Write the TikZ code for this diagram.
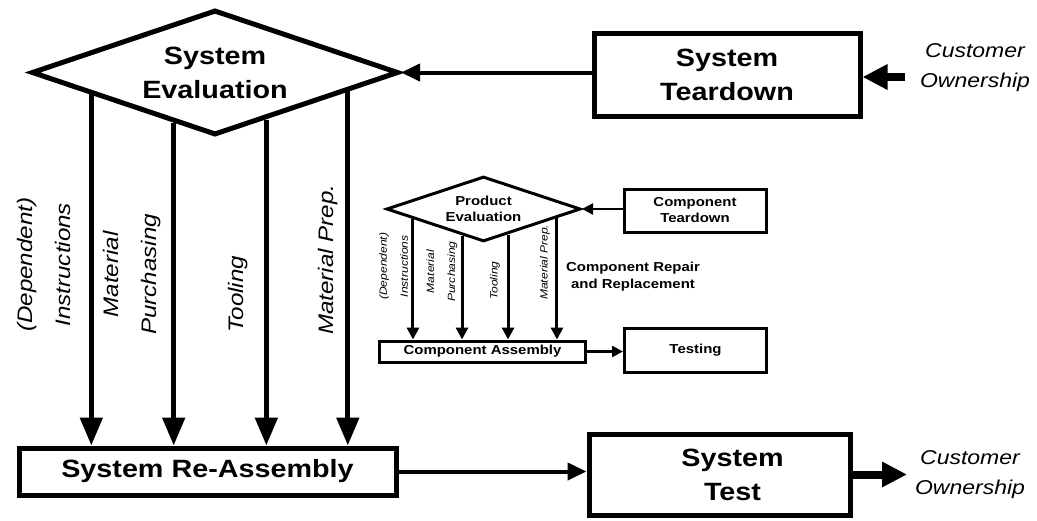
\documentclass[tikz,border=0pt]{standalone}
\usepackage{fontspec}
\setmainfont{Liberation Sans}
\newfontfamily\diagfont[FakeStretch=1.15]{Liberation Sans}
\usetikzlibrary{arrows.meta,shapes.geometric,calc}

\tikzset{
  bigbox/.style={draw, line width=5pt, fill=white, align=center, inner sep=0pt,
    font=\diagfont\bfseries\fontsize{25}{34}\selectfont},
  smallbox/.style={draw, line width=3pt, fill=white, align=center, inner sep=0pt,
    font=\diagfont\bfseries\fontsize{13}{16}\selectfont},
  bigdiam/.style={bigbox, diamond, aspect=2.9},
  smalldiam/.style={smallbox, diamond, aspect=2.9},
  biglabel/.style={rotate=90, anchor=west, align=center, inner sep=0pt,
    font=\diagfont\itshape\fontsize{21}{38}\selectfont},
  smalllabel/.style={rotate=90, anchor=west, align=center, inner sep=0pt,
    font=\diagfont\itshape\fontsize{10.5}{21}\selectfont},
  custlabel/.style={align=center, inner sep=0pt,
    font=\diagfont\itshape\fontsize{20}{30}\selectfont},
  notelabel/.style={align=center, inner sep=0pt,
    font=\diagfont\bfseries\fontsize{13}{17}\selectfont},
  bigdown/.style={line width=5pt, -{Triangle[length=28pt,width=22pt]}},
  bigflow/.style={line width=4pt, -{Triangle[length=19pt,width=17pt]}},
  heavyflow/.style={line width=8pt, -{Triangle[length=25pt,width=24pt]}},
  smalldown/.style={line width=3pt, -{Triangle[length=12pt,width=12pt]}},
  smallflow/.style={line width=2.5pt, -{Triangle[length=11pt,width=11pt]}},
}

\begin{document}
\begin{tikzpicture}[x=1pt, y=-1pt]
\useasboundingbox (0,0) rectangle (1037,520);

% ---- system level ----
\node[bigdiam, minimum width=367pt, minimum height=125pt] (se) at (215,72.5) {System\\Evaluation};
\node[bigbox, minimum width=266pt, minimum height=83pt] (st) at (727,74.5) {System\\Teardown};
\node[bigbox, minimum width=377pt, minimum height=47pt] (ra) at (207.5,471.5) {System Re-Assembly};
\node[bigbox, minimum width=261pt, minimum height=81pt] (tst) at (719.5,474.5)
  {\hspace*{26pt}System\\\hspace*{26pt}Test};

\node[custlabel] (cin) at (975,68) {Customer\\Ownership};
\node[custlabel] (cout) at (970,475) {Customer\\Ownership};
\coordinate (cinstart) at (905,77);
\coordinate (couttip) at (907,475);

% flows out of the system evaluation
\coordinate (b1) at ($(se.west)!0.335!(se.south)$);
\coordinate (b2) at ($(se.west)!0.778!(se.south)$);
\coordinate (b3) at ($(se.south)!0.276!(se.east)$);
\coordinate (b4) at ($(se.south)!0.714!(se.east)$);
\foreach \p in {b1,b2,b3,b4}
  \draw[bigdown] (\p) -- (\p |- ra.north);

\node[biglabel] (lb1) at (44,332) {(Dependent)\\Instructions};
\node[biglabel] (lb2) at (132.5,335) {Material\\Purchasing};
\node[biglabel] (lb3) at (238,333) {Tooling};
\node[biglabel] (lb4) at (328,335) {Material Prep.};

\draw[bigflow] (st.west |- se.east) -- (se.east);
\draw[heavyflow] (cinstart) -- (cinstart -| st.east);
\draw[bigflow] (ra.east) -- (ra.east -| tst.west);
\draw[heavyflow] (tst.east) -- (tst.east -| couttip);

% ---- component level ----
\node[smalldiam, minimum width=194pt, minimum height=65pt] (pe) at (483.5,209) {Product\\Evaluation};
\node[smallbox, minimum width=142pt, minimum height=43pt] (ct) at (695,210.5) {Component\\Teardown};
\node[smallbox, minimum width=206pt, minimum height=21pt] (ca) at (482.5,351.5) {Component Assembly};
\node[smallbox, minimum width=142pt, minimum height=44pt] (tg) at (695.5,350) {Testing};

\coordinate (s1) at ($(pe.west)!0.284!(pe.south)$);
\coordinate (s2) at ($(pe.west)!0.782!(pe.south)$);
\coordinate (s3) at ($(pe.south)!0.249!(pe.east)$);
\coordinate (s4) at ($(pe.south)!0.746!(pe.east)$);
\foreach \p in {s1,s2,s3,s4}
  \draw[smalldown] (\p) -- (\p |- ca.north);

\node[smalllabel] (ls1) at (393.5,300) {(Dependent)\\Instructions};
\node[smalllabel] (ls2) at (442,302) {Material\\Purchasing};
\node[smalllabel] (ls3) at (495,300) {Tooling};
\node[smalllabel] (ls4) at (545,300) {Material Prep.};

\node[notelabel] (rep) at (633,276.5) {Component Repair\\and Replacement};

\draw[smallflow] (ct.west |- pe.east) -- (pe.east);
\draw[smallflow] (ca.east) -- (ca.east -| tg.west);
\end{tikzpicture}
\end{document}
